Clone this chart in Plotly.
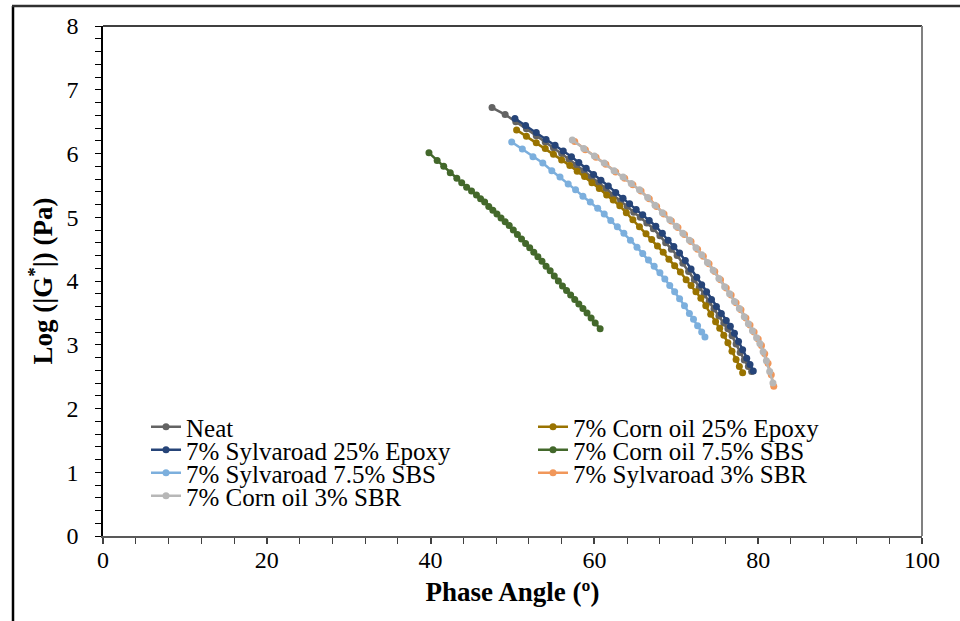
import plotly.graph_objects as go

# ---- data ----
neat_x = [47.5, 49.1, 50.4, 51.7, 52.9, 54.0, 55.0, 56.0, 56.9, 57.8, 58.7, 59.6, 60.5, 61.4, 62.3, 63.2, 64.0, 64.8, 65.6, 66.4,
          67.2, 68.0, 68.7, 69.4, 70.1, 70.8, 71.5, 72.2, 72.8, 73.4, 74.0, 74.6, 75.2, 75.8, 76.3, 76.8, 77.3, 77.8, 78.3, 78.8, 79.2]
neat_y = [6.72, 6.61, 6.50, 6.39, 6.28, 6.18, 6.09, 6.00, 5.91, 5.82, 5.73, 5.63, 5.54, 5.45, 5.35, 5.26, 5.17, 5.08, 5.00, 4.91,
          4.82, 4.71, 4.60, 4.50, 4.40, 4.28, 4.15, 4.02, 3.90, 3.79, 3.67, 3.56, 3.45, 3.34, 3.25, 3.14, 3.01, 2.88, 2.76, 2.66, 2.58]

co_epoxy_x = [50.5, 51.7, 52.9, 54.0, 55.0, 56.0, 57.0, 57.9, 58.8, 59.7, 60.6, 61.5, 62.3, 63.1, 63.9, 64.7, 65.5, 66.3, 67.0, 67.7,
              68.4, 69.1, 69.8, 70.5, 71.2, 71.8, 72.4, 73.0, 73.6, 74.2, 74.8, 75.3, 75.8, 76.3, 76.8, 77.3, 77.7, 78.1]
co_epoxy_y = [6.37, 6.27, 6.17, 6.08, 5.99, 5.90, 5.81, 5.72, 5.64, 5.54, 5.45, 5.35, 5.27, 5.18, 5.07, 4.96, 4.85, 4.74, 4.65, 4.55,
              4.45, 4.34, 4.24, 4.14, 4.02, 3.93, 3.83, 3.73, 3.61, 3.48, 3.36, 3.26, 3.15, 3.03, 2.90, 2.77, 2.66, 2.56]

sy_epoxy_x = [50.3, 51.6, 52.9, 54.1, 55.2, 56.2, 57.2, 58.1, 59.0, 59.9, 60.8, 61.7, 62.6, 63.5, 64.3, 65.1, 65.9, 66.7, 67.5, 68.3,
              69.0, 69.7, 70.4, 71.1, 71.8, 72.5, 73.1, 73.7, 74.3, 74.9, 75.5, 76.1, 76.6, 77.1, 77.6, 78.1, 78.6, 79.0, 79.4]
sy_epoxy_y = [6.55, 6.44, 6.33, 6.22, 6.13, 6.04, 5.95, 5.86, 5.77, 5.67, 5.58, 5.49, 5.39, 5.30, 5.21, 5.12, 5.04, 4.95, 4.86, 4.75,
              4.64, 4.54, 4.44, 4.32, 4.19, 4.06, 3.94, 3.83, 3.71, 3.60, 3.49, 3.38, 3.29, 3.18, 3.05, 2.92, 2.79, 2.69, 2.59]

co_sbs_x = [39.8, 40.8, 41.6, 42.4, 43.2, 43.8, 44.4, 45.0, 45.6, 46.1, 46.6, 47.1, 47.6, 48.1, 48.6, 49.1, 49.6, 50.1, 50.6, 51.1,
            51.6, 52.1, 52.6, 53.1, 53.6, 54.1, 54.6, 55.1, 55.6, 56.1, 56.6, 57.1, 57.6, 58.1, 58.6, 59.1, 59.6, 60.1, 60.7]
co_sbs_y = [6.01, 5.89, 5.80, 5.70, 5.61, 5.54, 5.47, 5.41, 5.35, 5.29, 5.24, 5.17, 5.11, 5.05, 4.99, 4.93, 4.87, 4.80, 4.73, 4.66,
            4.59, 4.52, 4.45, 4.38, 4.31, 4.23, 4.16, 4.08, 4.00, 3.92, 3.85, 3.78, 3.71, 3.64, 3.57, 3.50, 3.42, 3.34, 3.25]

sy_sbs_x = [49.9, 51.2, 52.5, 53.7, 54.8, 55.8, 56.8, 57.7, 58.6, 59.5, 60.4, 61.2, 62.0, 62.8, 63.6, 64.4, 65.2, 65.9, 66.6, 67.3,
            68.0, 68.6, 69.2, 69.8, 70.4, 71.0, 71.6, 72.1, 72.6, 73.1, 73.5]
sy_sbs_y = [6.18, 6.07, 5.95, 5.85, 5.73, 5.63, 5.52, 5.43, 5.33, 5.24, 5.14, 5.05, 4.95, 4.85, 4.75, 4.64, 4.53, 4.43, 4.33, 4.23,
            4.13, 4.03, 3.93, 3.83, 3.72, 3.61, 3.49, 3.40, 3.30, 3.20, 3.12]

sy_sbr_x = [57.6, 58.9, 60.2, 61.4, 62.6, 63.7, 64.7, 65.7, 66.7, 67.6, 68.5, 69.4, 70.2, 71.0, 71.8, 72.6, 73.3, 74.0, 74.7, 75.4,
            76.1, 76.7, 77.3, 77.9, 78.5, 79.0, 79.5, 80.0, 80.4, 80.8, 81.2, 81.6, 81.9]
sy_sbr_y = [6.19, 6.06, 5.94, 5.83, 5.71, 5.61, 5.51, 5.41, 5.29, 5.17, 5.05, 4.94, 4.84, 4.73, 4.62, 4.50, 4.39, 4.27, 4.15, 4.02,
            3.89, 3.78, 3.66, 3.55, 3.42, 3.31, 3.20, 3.09, 2.99, 2.86, 2.71, 2.53, 2.35]

co_sbr_x = [57.3, 58.7, 60.0, 61.2, 62.4, 63.5, 64.5, 65.5, 66.5, 67.4, 68.3, 69.2, 70.0, 70.8, 71.6, 72.4, 73.1, 73.8, 74.5, 75.2,
            75.9, 76.5, 77.1, 77.7, 78.3, 78.8, 79.3, 79.8, 80.2, 80.6, 81.0, 81.4, 81.8]
co_sbr_y = [6.21, 6.08, 5.96, 5.85, 5.73, 5.63, 5.53, 5.43, 5.31, 5.19, 5.07, 4.96, 4.86, 4.75, 4.64, 4.52, 4.41, 4.29, 4.17, 4.04,
            3.91, 3.80, 3.68, 3.57, 3.44, 3.33, 3.22, 3.11, 3.02, 2.89, 2.75, 2.58, 2.40]

x_ticks = [0, 20, 40, 60, 80, 100]
y_ticks = [0, 1, 2, 3, 4, 5, 6, 7, 8]

series_names = ["Neat", "7% Corn oil 25% Epoxy", "7% Sylvaroad 25% Epoxy", "7% Corn oil 7.5% SBS",
                "7% Sylvaroad 7.5% SBS", "7% Sylvaroad 3% SBR", "7% Corn oil 3% SBR"]
series_x = [neat_x, co_epoxy_x, sy_epoxy_x, co_sbs_x, sy_sbs_x, sy_sbr_x, co_sbr_x]
series_y = [neat_y, co_epoxy_y, sy_epoxy_y, co_sbs_y, sy_sbs_y, sy_sbr_y, co_sbr_y]
series_colors = ["#636363", "#997300", "#264478", "#43682B", "#7CAFDD", "#F1975A", "#B7B7B7"]

FONT = "Liberation Serif, Times New Roman, serif"

W, H = 960, 621
L, R, T, B = 103, 38, 26, 85
pw, ph = W - L - R, H - T - B

def px2paper_x(p):
    return (p - L) / pw

def px2paper_y(p):
    return (H - B - p) / ph

# legend grid: two columns, filled row by row (as in the reference)
col_px = [146, 533]
row_px = [427, 450, 473, 496]
LEG_FONT = dict(family=FONT, size=25, color="black")

fig = go.Figure()
legend_layouts = {}
for i, (name, xs, ys, col) in enumerate(zip(series_names, series_x, series_y, series_colors)):
    key = "legend" if i == 0 else f"legend{i + 1}"
    fig.add_trace(go.Scatter(
        x=xs, y=ys, name=name, mode="lines+markers",
        line=dict(color=col, width=2.5),
        marker=dict(color=col, size=7),
        legend=key,
    ))
    r, c = divmod(i, 2)
    legend_layouts[key] = dict(
        x=px2paper_x(col_px[c]), y=px2paper_y(row_px[r]), xanchor="left", yanchor="middle",
        bgcolor="rgba(0,0,0,0)", font=LEG_FONT, itemwidth=30, borderwidth=0,
    )

fig.update_layout(
    width=W, height=H,
    margin=dict(l=L, r=R, t=T, b=B, pad=0),
    paper_bgcolor="white", plot_bgcolor="white",
    font=dict(family=FONT, size=24, color="black"),
    showlegend=True,
    **legend_layouts,
    xaxis=dict(
        range=[0, 100], tickvals=x_ticks, ticktext=[str(v) for v in x_ticks],
        showgrid=False, zeroline=False,
        showline=True, linecolor="#595959", linewidth=2,
        ticks="outside", ticklen=6, tickcolor="#404040", tickwidth=1.5,
        minor=dict(dtick=4, tick0=0, ticks="outside", ticklen=6, tickcolor="#404040", tickwidth=1.2, showgrid=False),
        tickfont=dict(family=FONT, size=24),
        ticklabelstandoff=-5,
        title=dict(text="<b>Phase Angle (º)</b>", font=dict(family=FONT, size=27), standoff=10),
    ),
    yaxis=dict(
        range=[0, 8], tickvals=y_ticks, ticktext=[str(v) for v in y_ticks],
        showgrid=False, zeroline=False,
        showline=True, linecolor="black", linewidth=1.5,
        ticks="outside", ticklen=6, tickcolor="black", tickwidth=1.2,
        minor=dict(dtick=0.2, tick0=0, ticks="outside", ticklen=6, tickcolor="black", tickwidth=1.2, showgrid=False),
        tickfont=dict(family=FONT, size=24),
        ticklabelstandoff=12,
        title=dict(text="<b>Log (|G<sup>*</sup>|) (Pa)</b>", font=dict(family=FONT, size=27), standoff=6),
    ),
    shapes=[
        # top and right frame of the plot area
        dict(type="line", xref="paper", yref="paper", x0=0, x1=1, y0=1, y1=1, line=dict(color="black", width=1.5)),
        dict(type="line", xref="paper", yref="paper", x0=1, x1=1, y0=0, y1=1, line=dict(color="#808080", width=2)),
        # outer chart border (left and top)
        dict(type="line", xref="paper", yref="paper", x0=px2paper_x(13), x1=px2paper_x(13),
             y0=px2paper_y(6), y1=px2paper_y(640), line=dict(color="black", width=2.5)),
        dict(type="line", xref="paper", yref="paper", x0=px2paper_x(12), x1=px2paper_x(980),
             y0=px2paper_y(6), y1=px2paper_y(6), line=dict(color="#303030", width=2.5)),
    ],
)

fig.write_html("out.html")
